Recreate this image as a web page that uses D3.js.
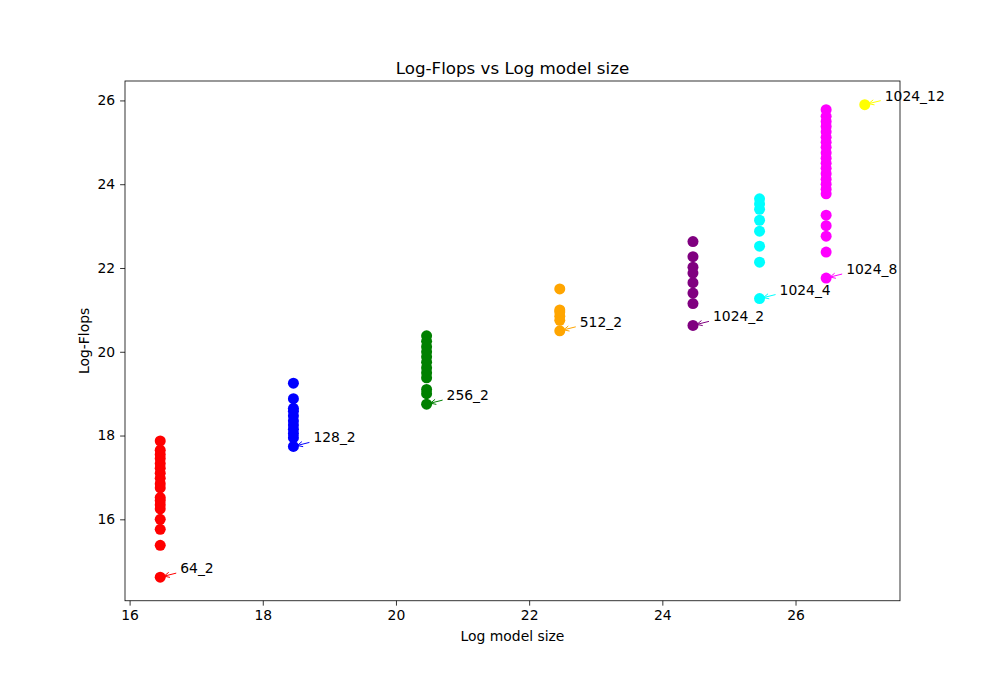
<!DOCTYPE html>
<html>
<head>
<meta charset="utf-8">
<script src="https://cdn.jsdelivr.net/npm/d3@7"></script>
<style>
  body { margin: 0; background: #fff; }
  text { font-family: "DejaVu Sans", sans-serif; }
</style>
</head>
<body>
<svg width="1000" height="675"></svg>
<script>
// model configs (width_layers), one column of points each
var configs = ["64_2", "128_2", "256_2", "512_2", "1024_2", "1024_4", "1024_8", "1024_12"];
var colors = ["red", "blue", "green", "orange", "purple", "cyan", "magenta", "yellow"];
var logSize = [16.46, 18.46, 20.46, 22.46, 24.46, 25.46, 26.46, 27.04];

// log-flops per config, lowest first (the lowest one is annotated)
var flops64 = [14.62, 15.38, 15.76, 16.0, 16.25, 16.35, 16.45, 16.52, 16.75, 16.85, 16.98, 17.1, 17.22, 17.33, 17.45, 17.55, 17.65, 17.87];
var flops128 = [17.74, 17.95, 18.05, 18.15, 18.25, 18.35, 18.47, 18.58, 18.65, 18.88, 19.25];
var flops256 = [18.75, 19.0, 19.1, 19.38, 19.5, 19.62, 19.75, 19.88, 20.0, 20.12, 20.25, 20.38];
var flops512 = [20.5, 20.75, 20.85, 20.95, 21.0, 21.5];
var flops1024_2 = [20.63, 21.15, 21.4, 21.65, 21.88, 22.02, 22.27, 22.63];
var flops1024_4 = [21.27, 22.14, 22.52, 22.88, 23.14, 23.4, 23.53, 23.65];
var flops1024_8 = [21.76, 22.38, 22.76, 23.01, 23.26, 23.77, 23.88, 24.0, 24.12, 24.25, 24.38, 24.5, 24.62, 24.75, 24.88, 25.0, 25.12, 25.25, 25.38, 25.5, 25.62, 25.78];
var flops1024_12 = [25.9];
var allFlops = [flops64, flops128, flops256, flops512, flops1024_2, flops1024_4, flops1024_8, flops1024_12];

var xTicks = [16, 18, 20, 22, 24, 26];
var yTicks = [16, 18, 20, 22, 24, 26];

var svg = d3.select("svg");
var margin = {left: 125, right: 100, top: 81, bottom: 74.25};
var width = 1000 - margin.left - margin.right;
var height = 675 - margin.top - margin.bottom;

// matplotlib style 5% padding
var pad = function(ext) { var r = ext[1] - ext[0]; return [ext[0] - 0.05 * r, ext[1] + 0.05 * r]; };
var ys = d3.merge(allFlops);
var x = d3.scaleLinear().domain(pad(d3.extent(logSize))).range([0, width]);
var y = d3.scaleLinear().domain(pad(d3.extent(ys))).range([height, 0]);

var g = svg.append("g").attr("transform", "translate(" + margin.left + "," + margin.top + ")");

// points
allFlops.forEach(function(vals, i) {
    g.selectAll(null)
    .data(vals)
    .enter()
    .append("circle")
    .attr("cx", x(logSize[i]))
    .attr("cy", function(d) { return y(d); })
    .attr("r", 5.5)
    .attr("fill", colors[i]);
});

// annotations with little arrows
allFlops.forEach(function(vals, i) {
    var px = x(logSize[i]), py = y(vals[0]);
    var sx = px + 16, sy = py - 4;
    var ang = Math.atan2(py - sy, px - sx);
    var ex = px - 4 * Math.cos(ang), ey = py - 4 * Math.sin(ang);
    var c = colors[i];
    g.append("line").attr("x1", sx).attr("y1", sy).attr("x2", ex).attr("y2", ey)
    .attr("stroke", c).attr("stroke-width", 1);
    [0.45, -0.45].forEach(function(da) {
        var a = ang + Math.PI + da;
        g.append("line").attr("x1", ex).attr("y1", ey)
        .attr("x2", ex + 6 * Math.cos(a)).attr("y2", ey + 6 * Math.sin(a))
        .attr("stroke", c).attr("stroke-width", 1);
    });
    g.append("text")
    .attr("x", px + 20)
    .attr("y", py - 4)
    .attr("font-size", "13.9px")
    .attr("fill", "black")
    .text(configs[i]);
});

// axes
var xAxis = g.append("g").attr("transform", "translate(0," + height + ")")
    .call(d3.axisBottom(x).tickValues(xTicks).tickSize(4.9).tickPadding(4.9).tickFormat(d3.format("d")));
var yAxis = g.append("g")
    .call(d3.axisLeft(y).tickValues(yTicks).tickSize(4.9).tickPadding(4.9).tickFormat(d3.format("d")));
[xAxis, yAxis].forEach(function(a) {
    a.select(".domain").remove();
    a.selectAll("text").attr("font-size", "13.9px").attr("font-family", "DejaVu Sans").attr("fill", "black");
    a.selectAll("line").attr("stroke", "black").attr("stroke-width", 0.8);
});

// frame
g.append("rect").attr("width", width).attr("height", height)
.attr("fill", "none").attr("stroke", "black").attr("stroke-width", 0.8);

svg.append("text").attr("x", margin.left + width / 2).attr("y", margin.top - 7)
.attr("text-anchor", "middle").attr("font-size", "16.7px").text("Log-Flops vs Log model size");
svg.append("text").attr("x", margin.left + width / 2).attr("y", 641)
.attr("text-anchor", "middle").attr("font-size", "13.9px").text("Log model size");
svg.append("text").attr("transform", "translate(89," + (margin.top + height / 2) + ") rotate(-90)")
.attr("text-anchor", "middle").attr("font-size", "13.9px").text("Log-Flops");
</script>
</body>
</html>
